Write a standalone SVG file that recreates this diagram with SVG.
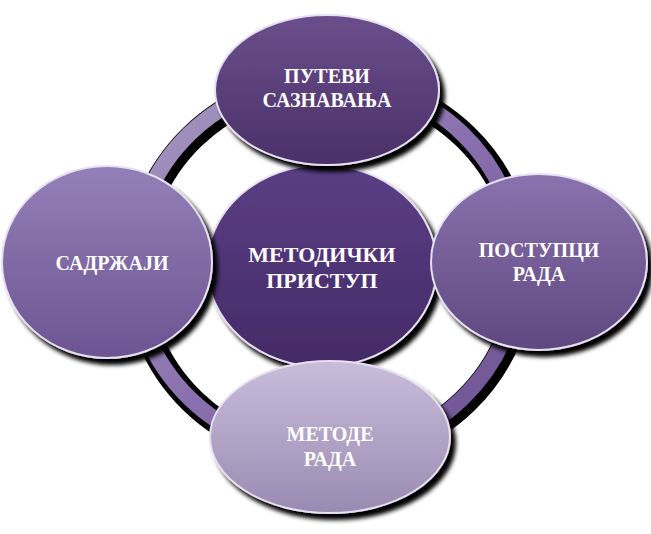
<svg xmlns="http://www.w3.org/2000/svg" width="651" height="534" viewBox="0 0 651 534">
<defs>
<filter id="sh" x="-20%" y="-20%" width="150%" height="150%"><feDropShadow dx="5" dy="6" stdDeviation="2" flood-color="#000" flood-opacity="1"/></filter>
<linearGradient id="gc" x1="0" y1="0" x2="0" y2="1"><stop offset="0" stop-color="#5a3f85"/><stop offset="1" stop-color="#442a66"/></linearGradient>
<linearGradient id="gt" x1="0" y1="0" x2="0" y2="1"><stop offset="0" stop-color="#6a4f8c"/><stop offset="1" stop-color="#4a3068"/></linearGradient>
<linearGradient id="gl" x1="0" y1="0" x2="0" y2="1"><stop offset="0" stop-color="#9480b8"/><stop offset="1" stop-color="#6c5492"/></linearGradient>
<linearGradient id="gr" x1="0" y1="0" x2="0" y2="1"><stop offset="0" stop-color="#8a72ae"/><stop offset="1" stop-color="#5e4880"/></linearGradient>
<linearGradient id="gb" x1="0" y1="0" x2="0" y2="1"><stop offset="0" stop-color="#cabddb"/><stop offset="1" stop-color="#9a8ab2"/></linearGradient>
<linearGradient id="gring" x1="0" y1="0" x2="1" y2="1"><stop offset="0" stop-color="#a69ac0"/><stop offset="0.5" stop-color="#8a70ae"/><stop offset="1" stop-color="#6a5090"/></linearGradient>
<style>
.n{stroke:#e8e0f0;stroke-width:2;filter:url(#sh)}
text{font-family:"Liberation Serif","DejaVu Serif",serif;font-weight:bold;fill:#fff;text-anchor:middle}
</style>
</defs>
<g id="connectors">
<ellipse cx="329" cy="269" rx="193" ry="187" fill="none" stroke="#000" stroke-width="26"/>
<ellipse cx="326" cy="266" rx="193" ry="187" fill="none" stroke="url(#gring)" stroke-width="16"/>
</g>
<g id="center"><ellipse class="n" cx="322" cy="266" rx="115" ry="101" fill="url(#gc)"/><text font-family="Liberation Serif" font-size="22" x="322" y="262">МЕТОДИЧКИ</text><text font-family="Liberation Serif" font-size="22" x="322" y="288">ПРИСТУП</text></g>
<g id="top"><ellipse class="n" cx="327" cy="90" rx="112" ry="75" fill="url(#gt)"/><text font-family="Liberation Serif" font-size="20" x="327" y="83">ПУТЕВИ</text><text font-family="Liberation Serif" font-size="20" x="327" y="107">САЗНАВАЊА</text></g>
<g id="left"><ellipse class="n" cx="107" cy="262" rx="105" ry="96" fill="url(#gl)"/><text font-family="Liberation Serif" font-size="20" x="112" y="270">САДРЖАЈИ</text></g>
<g id="right"><ellipse class="n" cx="539" cy="262" rx="108" ry="88" fill="url(#gr)"/><text font-family="Liberation Serif" font-size="20" x="539" y="257">ПОСТУПЦИ</text><text font-family="Liberation Serif" font-size="20" x="539" y="281">РАДА</text></g>
<g id="bottom"><ellipse class="n" cx="330" cy="437" rx="120" ry="76" fill="url(#gb)"/><text font-family="Liberation Serif" font-size="20" x="330" y="441">МЕТОДЕ</text><text font-family="Liberation Serif" font-size="20" x="330" y="466">РАДА</text></g>
</svg>
